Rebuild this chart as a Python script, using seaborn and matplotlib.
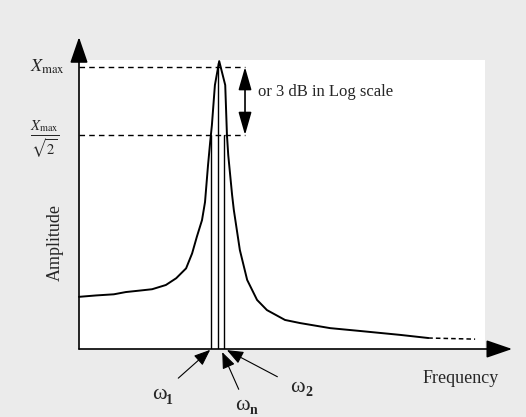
import matplotlib
matplotlib.use("Agg")
import matplotlib.pyplot as plt
import seaborn as sns

# ---- data (arbitrary units) ----
freq = [0, 4.0, 8.1, 10.9, 14.0, 17.0, 20.2, 22.6, 24.9, 26.3, 27.4, 28.6, 29.3, 30.0,
        30.5, 30.9, 31.6, 32.6, 34.0, 34.4, 34.7, 35.6, 36.0, 37.4, 39.1, 41.4, 43.7,
        47.9, 51.4, 58.4, 65.3, 74.7, 81.2]
amp = [18.5, 19.0, 19.4, 20.2, 20.7, 21.2, 22.7, 25.1, 28.6, 33.9, 39.8, 45.7, 52.1, 65.2,
       73.4, 79.4, 93.6, 102.1, 93.6, 75.9, 68.8, 54.6, 49.3, 35.1, 24.5, 17.4, 13.8,
       10.3, 9.2, 7.4, 6.4, 5.0, 3.9]
tail_freq = [81.2, 92.1]
tail_amp = [3.9, 3.5]

x_max = 100.0
x_half = 75.9
omega_subs = ["1", "n", "2"]
omega_freq = [30.6, 32.4, 33.8]
omega_top = [x_half, 101.5, x_half]

sns.set_theme(style="white")
plt.rcParams["font.family"] = ["Liberation Serif", "DejaVu Serif"]
plt.rcParams["mathtext.fontset"] = "stix"

W, H = 526, 417
fig = plt.figure(figsize=(W / 100, H / 100), dpi=100, facecolor="#ebebeb")
ax = fig.add_axes([79 / W, (H - 349) / H, (485 - 79) / W, (349 - 60) / H])
ax.set_facecolor("white")
ax.set_xlim(0, 94.4)
ax.set_ylim(0, 102.5)
for s in ax.spines.values():
    s.set_visible(False)
ax.set_xticks([])
ax.set_yticks([])

# curve
sns.lineplot(x=freq, y=amp, ax=ax, color="black", lw=1.4, sort=False)
sns.lineplot(x=tail_freq, y=tail_amp, ax=ax, color="black", lw=1.1, linestyle=(0, (3, 2)), sort=False)
for l in ax.lines:
    l.set_clip_on(False)

# omega vertical lines
for f, t in zip(omega_freq, omega_top):
    ax.plot([f, f], [0, t], color="black", lw=1.0)

# dashed reference levels
ax.plot([0, 38.6], [x_max, x_max], color="black", lw=1.0, linestyle=(0, (4, 3)), clip_on=False)
ax.plot([0, 38.6], [x_half, x_half], color="black", lw=1.0, linestyle=(0, (4, 3)), clip_on=False)

# axes arrows
ah = dict(arrowstyle="-|>,head_length=1.6,head_width=0.55", color="black", lw=1.2,
          mutation_scale=10, shrinkA=0, shrinkB=0)
ax.annotate("", xy=(0, 110.6), xytext=(0, 0), arrowprops=ah, annotation_clip=False)
ax.annotate("", xy=(100.7, 0), xytext=(0, 0), arrowprops=ah, annotation_clip=False)

# double arrow between levels
dh = dict(arrowstyle="<|-|>,head_length=1.4,head_width=0.4", color="black", lw=1.2,
          mutation_scale=10, shrinkA=0, shrinkB=0)
ax.annotate("", xy=(38.6, x_max), xytext=(38.6, x_half), arrowprops=dh, annotation_clip=False)
ax.text(41.6, 91.1, "or 3 dB in Log scale", fontsize=12, va="center", ha="left")

# labels
ax.text(-7.4, x_max, r"$X_{\mathrm{max}}$", fontsize=13, ha="center", va="center", clip_on=False)
ax.text(-7.9, 74.1, r"$\frac{X_{\mathrm{max}}}{\sqrt{2}}$", fontsize=15, ha="center", va="center", clip_on=False)
ax.text(-5.6, 37.6, "Amplitude", fontsize=13, rotation=90, ha="center", va="center", clip_on=False)
ax.text(88.8, -10.3, "Frequency", fontsize=13, ha="center", va="center", clip_on=False)

# omega labels with arrows
oh = dict(arrowstyle="-|>,head_length=1.0,head_width=0.4", color="black", lw=0.8,
          mutation_scale=10, shrinkA=2, shrinkB=0)
label_pos = [(18.6, -16.3), (37.9, -19.9), (50.9, -13.5)]
arrow_from = [(22.6, -11.0), (37.4, -15.2), (46.7, -10.3)]
arrow_to = [(30.5, -0.3), (33.3, -1.1), (34.4, -0.4)]
for sub, lp, af, at in zip(omega_subs, label_pos, arrow_from, arrow_to):
    ax.text(lp[0], lp[1], "ω", fontsize=16, ha="center", va="center", clip_on=False)
    ax.text(lp[0] + 1.7, lp[1] - 1.8, sub, fontsize=10, fontweight="bold",
            ha="left", va="center", clip_on=False)
    ax.annotate("", xy=at, xytext=af, arrowprops=oh, annotation_clip=False)

fig.savefig("out.png", dpi=100, facecolor=fig.get_facecolor())
